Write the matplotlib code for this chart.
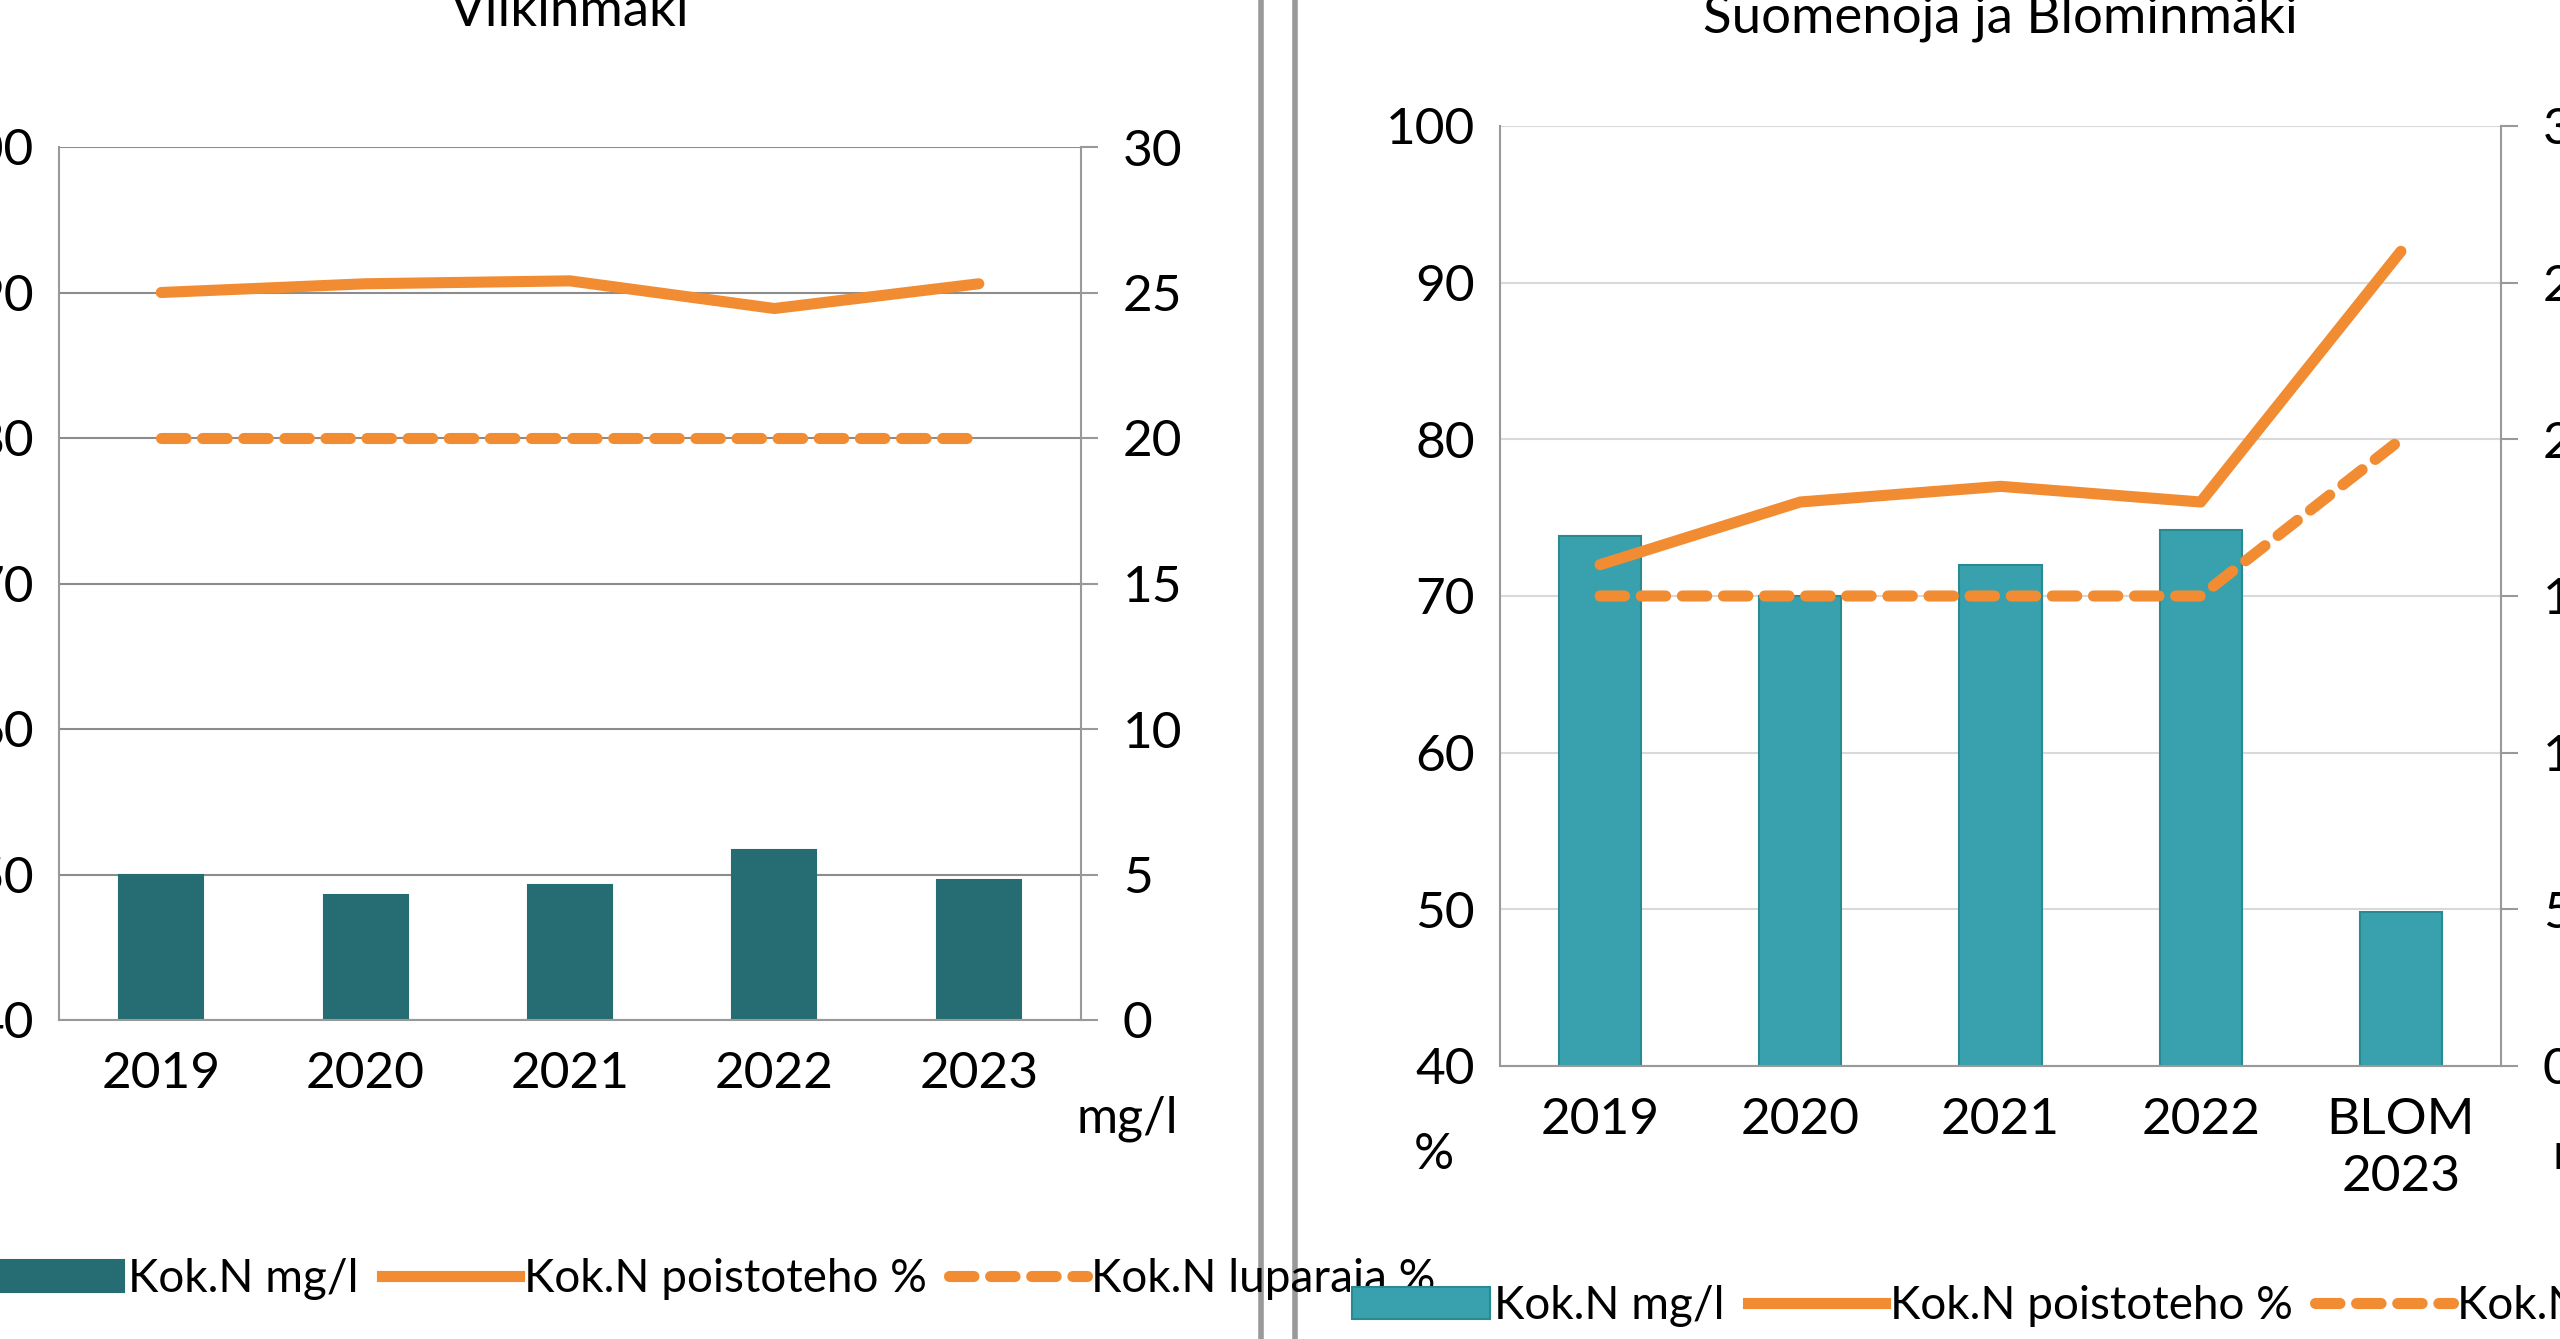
import matplotlib
matplotlib.use("Agg")
import matplotlib.pyplot as plt
from matplotlib.lines import Line2D
from matplotlib.patches import Patch

plt.rcParams['font.family'] = ['Lato', 'DejaVu Sans']

W, H = 2560, 1339
ORANGE = '#f28c33'

# Viikinmäki
v_cats = ['2019', '2020', '2021', '2022', '2023']
v_mgl = [5.0, 4.3, 4.65, 5.85, 4.8]
v_poisto = [90.0, 90.6, 90.8, 88.9, 90.6]
v_lupa = [80, 80, 80, 80, 80]

# Suomenoja ja Blominmäki
s_cats = ['2019', '2020', '2021', '2022', 'BLOM\n2023']
s_mgl = [16.9, 15.0, 16.0, 17.1, 4.9]
s_poisto = [72, 76, 77, 76, 92]
s_lupa = [70, 70, 70, 70, 80]

fig = plt.figure(figsize=(W/100, H/100), dpi=100)
DASH = (0, (2.2, 1.5))

def px(x0, y0, x1, y1):
    return [x0/W, 1 - y1/H, (x1-x0)/W, (y1-y0)/H]

def panel(rect, cats, mgl, poisto, lupa, barcol, edgecol, gridcol, title, title_y):
    ax = fig.add_axes(px(*rect))
    x = list(range(len(cats)))
    ax.bar(x, mgl, width=0.41, color=barcol, edgecolor=edgecol, linewidth=1.5, zorder=2)
    ax.set_ylim(0, 30)
    ax.set_xlim(-0.5, len(cats) - 0.5)
    ax.set_yticks([0, 5, 10, 15, 20, 25, 30])
    ax.grid(axis='y', color=gridcol, linewidth=1.5, zorder=0)
    ax.set_xticks(x)
    ax.set_xticklabels(cats, fontsize=37, linespacing=1.3)
    ax.tick_params(axis='x', length=0, pad=22)
    ax.spines['top'].set_visible(False)
    for s in ['left', 'right', 'bottom']:
        ax.spines[s].set_color('#999999')
        ax.spines[s].set_linewidth(1.5)
    ax2 = ax.twinx()
    ax.yaxis.tick_right()
    ax.tick_params(axis='y', labelsize=37, length=12, color='#999999', width=1.5, pad=18)
    ax2.plot(x, poisto, color=ORANGE, linewidth=8, solid_capstyle='round')
    ax2.plot(x, lupa, color=ORANGE, linewidth=8, linestyle=DASH, dash_capstyle='round')
    ax2.set_ylim(40, 100)
    ax2.set_yticks([40, 50, 60, 70, 80, 90, 100])
    ax2.yaxis.tick_left()
    ax2.tick_params(axis='y', labelsize=37, length=0, pad=18)
    for s in ax2.spines.values():
        s.set_visible(False)
    cx = (rect[0] + rect[2]) / 2
    fig.text(cx/W, 1 - title_y/H, title, fontsize=38, ha='center', va='center')
    return ax

panel((59, 147, 1081, 1020), v_cats, v_mgl, v_poisto, v_lupa,
      '#256d73', '#256d73', '#8c8c8c', 'Viikinmäki', 12)
panel((1500, 126, 2501, 1066), s_cats, s_mgl, s_poisto, s_lupa,
      '#38a1ad', '#2a8a94', '#d9d9d9', 'Suomenoja ja Blominmäki', 18)

fig.text(1127/W, 1 - 1119/H, 'mg/l', fontsize=36, ha='center', va='center')
fig.text(1434/W, 1 - 1155/H, '%', fontsize=36, ha='center', va='center')
fig.text(2552/W, 1 - 1155/H, 'mg/l', fontsize=36, ha='left', va='center')

for xs in (1261, 1295):
    fig.add_artist(Line2D([xs/W, xs/W], [0, 1], color='#999999', linewidth=4))

def legend(x0, y0, barcol, edgecol):
    handles = [Patch(facecolor=barcol, edgecolor=edgecol, linewidth=1.5),
               Line2D([], [], color=ORANGE, linewidth=8),
               Line2D([], [], color=ORANGE, linewidth=8, linestyle=DASH, dash_capstyle='round')]
    labels = ['Kok.N mg/l', 'Kok.N poistoteho %', 'Kok.N luparaja %']
    fig.legend(handles, labels, loc='center left', bbox_to_anchor=(x0/W, 1 - y0/H),
               ncol=3, frameon=False, fontsize=33, handlelength=3.0, handletextpad=0.1,
               columnspacing=0.5, borderaxespad=0, borderpad=0)

legend(-14, 1279, '#256d73', '#256d73')
legend(1352, 1306, '#38a1ad', '#2a8a94')

fig.savefig('out.png', dpi=100)
